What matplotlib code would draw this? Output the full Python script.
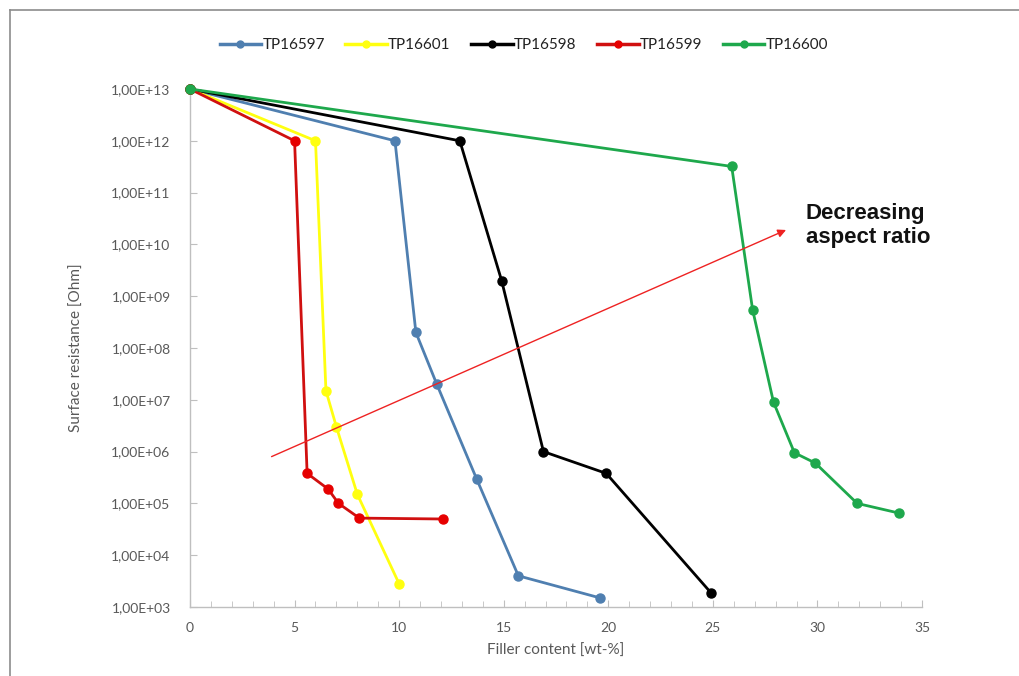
import math
import matplotlib
matplotlib.use("Agg")
import matplotlib.pyplot as plt
from matplotlib.ticker import FixedLocator, MultipleLocator, FuncFormatter
from matplotlib.lines import Line2D

plt.rcParams['font.family'] = ['Lato', 'DejaVu Sans']

# filler content [wt-%] and surface resistance [Ohm] per sample
x_16597 = [0, 9.8, 10.8, 11.8, 13.7, 15.7, 19.6]
y_16597 = [1e13, 1e12, 2e8, 2e7, 3e5, 4e3, 1.5e3]

x_16601 = [0, 6, 6.5, 7, 8, 10]
y_16601 = [1e13, 1e12, 1.5e7, 3e6, 1.5e5, 2.8e3]

x_16598 = [0, 12.9, 14.9, 16.9, 19.9, 24.9]
y_16598 = [1e13, 1e12, 2e9, 1e6, 3.8e5, 1.9e3]

x_16599 = [0, 5, 5.6, 6.6, 7.1, 8.1, 12.1]
y_16599 = [1e13, 1e12, 3.8e5, 1.9e5, 1e5, 5.2e4, 5e4]

x_16600 = [0, 25.9, 26.9, 27.9, 28.9, 29.9, 31.9, 33.9]
y_16600 = [1e13, 3.2e11, 5.5e8, 9e6, 9.5e5, 6e5, 1e5, 6.5e4]

series = [
    ("TP16597", x_16597, y_16597, "#4f7fb0", "#4f7fb0"),
    ("TP16601", x_16601, y_16601, "#ffff10", "#ffff10"),
    ("TP16598", x_16598, y_16598, "#000000", "#000000"),
    ("TP16599", x_16599, y_16599, "#d01010", "#e60000"),
    ("TP16600", x_16600, y_16600, "#1ea84c", "#1ea84c"),
]

fig = plt.figure(figsize=(10.19, 6.76), dpi=100)
ax = fig.add_axes([190 / 1019, 1 - 607 / 676, 732 / 1019, 518 / 676])

handles = []
for name, xs, ys, lc, mc in series:
    ax.plot(xs, ys, color=lc, lw=2.0, marker='o', ms=6.5,
            mfc=mc, mec=mc, clip_on=False, zorder=3)
    handles.append(Line2D([], [], color=lc, lw=2.5, marker='o', ms=5,
                          mfc=mc, mec=mc))

ax.set_yscale('log')
ax.set_xlim(0, 35)
ax.set_ylim(1e3, 1e13)

grey = '#595959'
ax.yaxis.set_major_locator(FixedLocator([10.0 ** k for k in range(3, 14)]))
ax.yaxis.set_minor_locator(FixedLocator([]))
ax.yaxis.set_major_formatter(FuncFormatter(
    lambda v, p: "1,00E+%02d" % round(math.log10(v))))
ax.xaxis.set_major_locator(MultipleLocator(5))
ax.xaxis.set_minor_locator(MultipleLocator(1))

for s in ('top', 'right'):
    ax.spines[s].set_visible(False)
for s in ('left', 'bottom'):
    ax.spines[s].set_color('#bfbfbf')
    ax.spines[s].set_linewidth(1.0)

ax.tick_params(axis='both', which='both', direction='in', color='#bfbfbf',
               labelcolor=grey, labelsize=10)
ax.tick_params(axis='y', which='major', length=5, pad=14)
ax.tick_params(axis='x', which='major', length=5, pad=11)
ax.tick_params(axis='x', which='minor', length=4)

ax.set_xlabel("Filler content [wt-%]", color=grey, fontsize=11, labelpad=7)
ax.set_ylabel("Surface resistance [Ohm]", color=grey, fontsize=11, labelpad=20)

# trend arrow and note
ax.annotate("", xy=(28.5, 1.9e10), xytext=(3.9, 8e5),
            arrowprops=dict(arrowstyle='-|>', color='#ee2222', lw=1.0,
                            mutation_scale=12, shrinkA=0, shrinkB=0))
ax.text(29.45, 2.3e10, "Decreasing\naspect ratio", fontsize=16,
        fontweight='bold', family=['Liberation Sans', 'DejaVu Sans'],
        color='#111111', va='center', ha='left', linespacing=1.15)

fig.legend(handles=handles, labels=[s[0] for s in series], loc='center',
           bbox_to_anchor=(524 / 1019, 1 - 45 / 676), ncol=5, frameon=False,
           fontsize=11, handlelength=2.7, columnspacing=1.35,
           handletextpad=0.1, labelcolor='#222222')

# chart border (top and left edges)
fig.add_artist(Line2D([10 / 1019, 1], [1 - 10 / 676] * 2,
                      color='#8c8c8c', lw=1.2, transform=fig.transFigure))
fig.add_artist(Line2D([10 / 1019] * 2, [0, 1 - 10 / 676],
                      color='#8c8c8c', lw=1.2, transform=fig.transFigure))

fig.savefig("out.png", dpi=100)
